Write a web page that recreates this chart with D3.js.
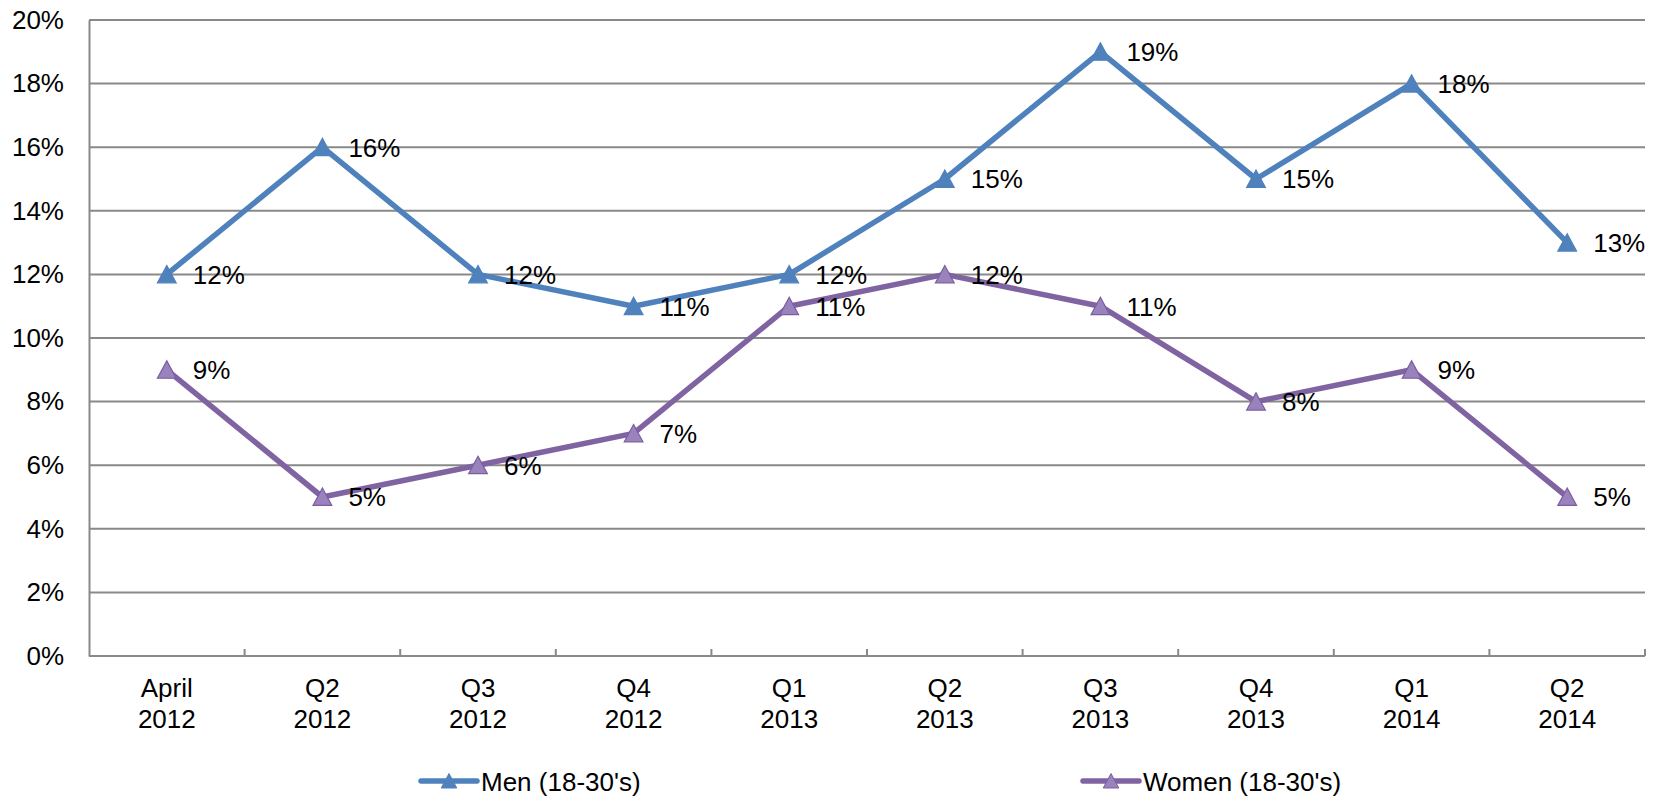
<!DOCTYPE html>
<html>
<head>
<meta charset="utf-8">
<script src="https://cdn.jsdelivr.net/npm/d3@7"></script>
<style>
  html, body { margin: 0; padding: 0; background: #fff; }
  svg { display: block; font-family: "Liberation Sans", Arial, sans-serif; }
</style>
</head>
<body>
<svg id="chart"></svg>
<script>
var width = 1660;
var height = 796;

// categories (two-line labels)
var categories = ["April 2012", "Q2 2012", "Q3 2012", "Q4 2012", "Q1 2013",
                  "Q2 2013", "Q3 2013", "Q4 2013", "Q1 2014", "Q2 2014"];
var menValues   = [0.12, 0.16, 0.12, 0.11, 0.12, 0.15, 0.19, 0.15, 0.18, 0.13];
var womenValues = [0.09, 0.05, 0.06, 0.07, 0.11, 0.12, 0.11, 0.08, 0.09, 0.05];
var yTicks = [0, 0.02, 0.04, 0.06, 0.08, 0.10, 0.12, 0.14, 0.16, 0.18, 0.20];

var series = [
  { name: "Men (18-30's)",   values: menValues,   color: "#4f81bd", fill: "#4f81bd", stroke: "#4f81bd" },
  { name: "Women (18-30's)", values: womenValues, color: "#8064a2", fill: "#9a82bd", stroke: "#7a5e9e" }
];

var plot = { left: 89, right: 1645, top: 20, bottom: 656 };
var gridColor = "#898989";
var fontSize = 26;

var x = d3.scaleBand().domain(categories).range([plot.left, plot.right]);
var y = d3.scaleLinear().domain([0, 0.2]).range([plot.bottom, plot.top]);
var pct = d3.format(".0%");

// centred triangle marker
var triangle = {
  draw: function (ctx, size) {
    var w = Math.sqrt(size) * 1.1, h = w * 0.9;
    ctx.moveTo(0, -h / 2 - 0.5);
    ctx.lineTo(w / 2, h / 2);
    ctx.lineTo(-w / 2, h / 2);
    ctx.closePath();
  }
};

var svg = d3.select("#chart").attr("width", width).attr("height", height);
svg.append("rect").attr("width", width).attr("height", height).attr("fill", "#fff");

// grid lines
svg.append("g").selectAll("line")
  .data(yTicks.slice(1))
  .join("line")
  .attr("x1", plot.left).attr("x2", plot.right)
  .attr("y1", d => y(d)).attr("y2", d => y(d))
  .attr("stroke", gridColor).attr("stroke-width", 2);

// y axis
var yAxis = svg.append("g").attr("transform", `translate(${plot.left},0)`)
  .call(d3.axisLeft(y).tickValues(yTicks).tickFormat(pct).tickSize(0).tickPadding(25));
yAxis.select(".domain").attr("stroke", gridColor).attr("stroke-width", 2);
yAxis.selectAll("text").attr("font-size", fontSize).attr("fill", "#000")
  .attr("font-family", "Liberation Sans, Arial, sans-serif");

// x axis line and ticks
svg.append("line")
  .attr("x1", plot.left).attr("x2", plot.right)
  .attr("y1", plot.bottom).attr("y2", plot.bottom)
  .attr("stroke", gridColor).attr("stroke-width", 2);
var bounds = categories.map(c => x(c)).concat([x(categories[categories.length - 1]) + x.bandwidth()]);
svg.append("g").selectAll("line")
  .data(bounds.slice(1))
  .join("line")
  .attr("x1", d => d).attr("x2", d => d)
  .attr("y1", plot.bottom).attr("y2", plot.bottom - 7)
  .attr("stroke", gridColor).attr("stroke-width", 2);

// x labels
var xl = svg.append("g").selectAll("text")
  .data(categories)
  .join("text")
  .attr("x", d => x(d) + x.bandwidth() / 2)
  .attr("y", 697)
  .attr("text-anchor", "middle")
  .attr("font-size", fontSize)
  .attr("fill", "#000");
xl.append("tspan").attr("x", d => x(d) + x.bandwidth() / 2).text(d => d.split(" ")[0]);
xl.append("tspan").attr("x", d => x(d) + x.bandwidth() / 2).attr("dy", 31).text(d => d.split(" ")[1]);

// lines
var line = d3.line()
  .x((d, i) => x(categories[i]) + x.bandwidth() / 2)
  .y(d => y(d));

var sg = svg.append("g").selectAll("g")
  .data(series)
  .join("g");

sg.append("path")
  .attr("d", d => line(d.values))
  .attr("fill", "none")
  .attr("stroke", d => d.color)
  .attr("stroke-width", 5.5)
  .attr("stroke-linejoin", "round");

sg.each(function (s) {
  var g = d3.select(this);
  g.selectAll("path.mk")
    .data(s.values)
    .join("path")
    .attr("class", "mk")
    .attr("transform", (d, i) => `translate(${x(categories[i]) + x.bandwidth() / 2},${y(d)})`)
    .attr("d", d3.symbol(triangle, 290))
    .attr("fill", s.fill)
    .attr("stroke", s.stroke)
    .attr("stroke-width", 1.2);
  g.selectAll("text.lbl")
    .data(s.values)
    .join("text")
    .attr("class", "lbl")
    .attr("x", (d, i) => x(categories[i]) + x.bandwidth() / 2 + 26)
    .attr("y", d => y(d))
    .attr("dy", "0.36em")
    .attr("font-size", fontSize)
    .attr("fill", "#000")
    .text(d => pct(d));
});

// legend
var legendX = [421, 1083];
var lg = svg.append("g").selectAll("g")
  .data(series)
  .join("g")
  .attr("transform", (d, i) => `translate(${legendX[i]},781)`);
lg.append("line")
  .attr("x1", 0).attr("x2", 56)
  .attr("stroke", d => d.color).attr("stroke-width", 5.5)
  .attr("stroke-linecap", "round");
lg.append("path")
  .attr("transform", "translate(28,0)")
  .attr("d", d3.symbol(triangle, 200))
  .attr("fill", d => d.fill)
  .attr("stroke", d => d.stroke)
  .attr("stroke-width", 1);
lg.append("text")
  .attr("x", 60)
  .attr("y", 10)
  .attr("font-size", fontSize)
  .attr("fill", "#000")
  .text(d => d.name);
</script>
</body>
</html>
